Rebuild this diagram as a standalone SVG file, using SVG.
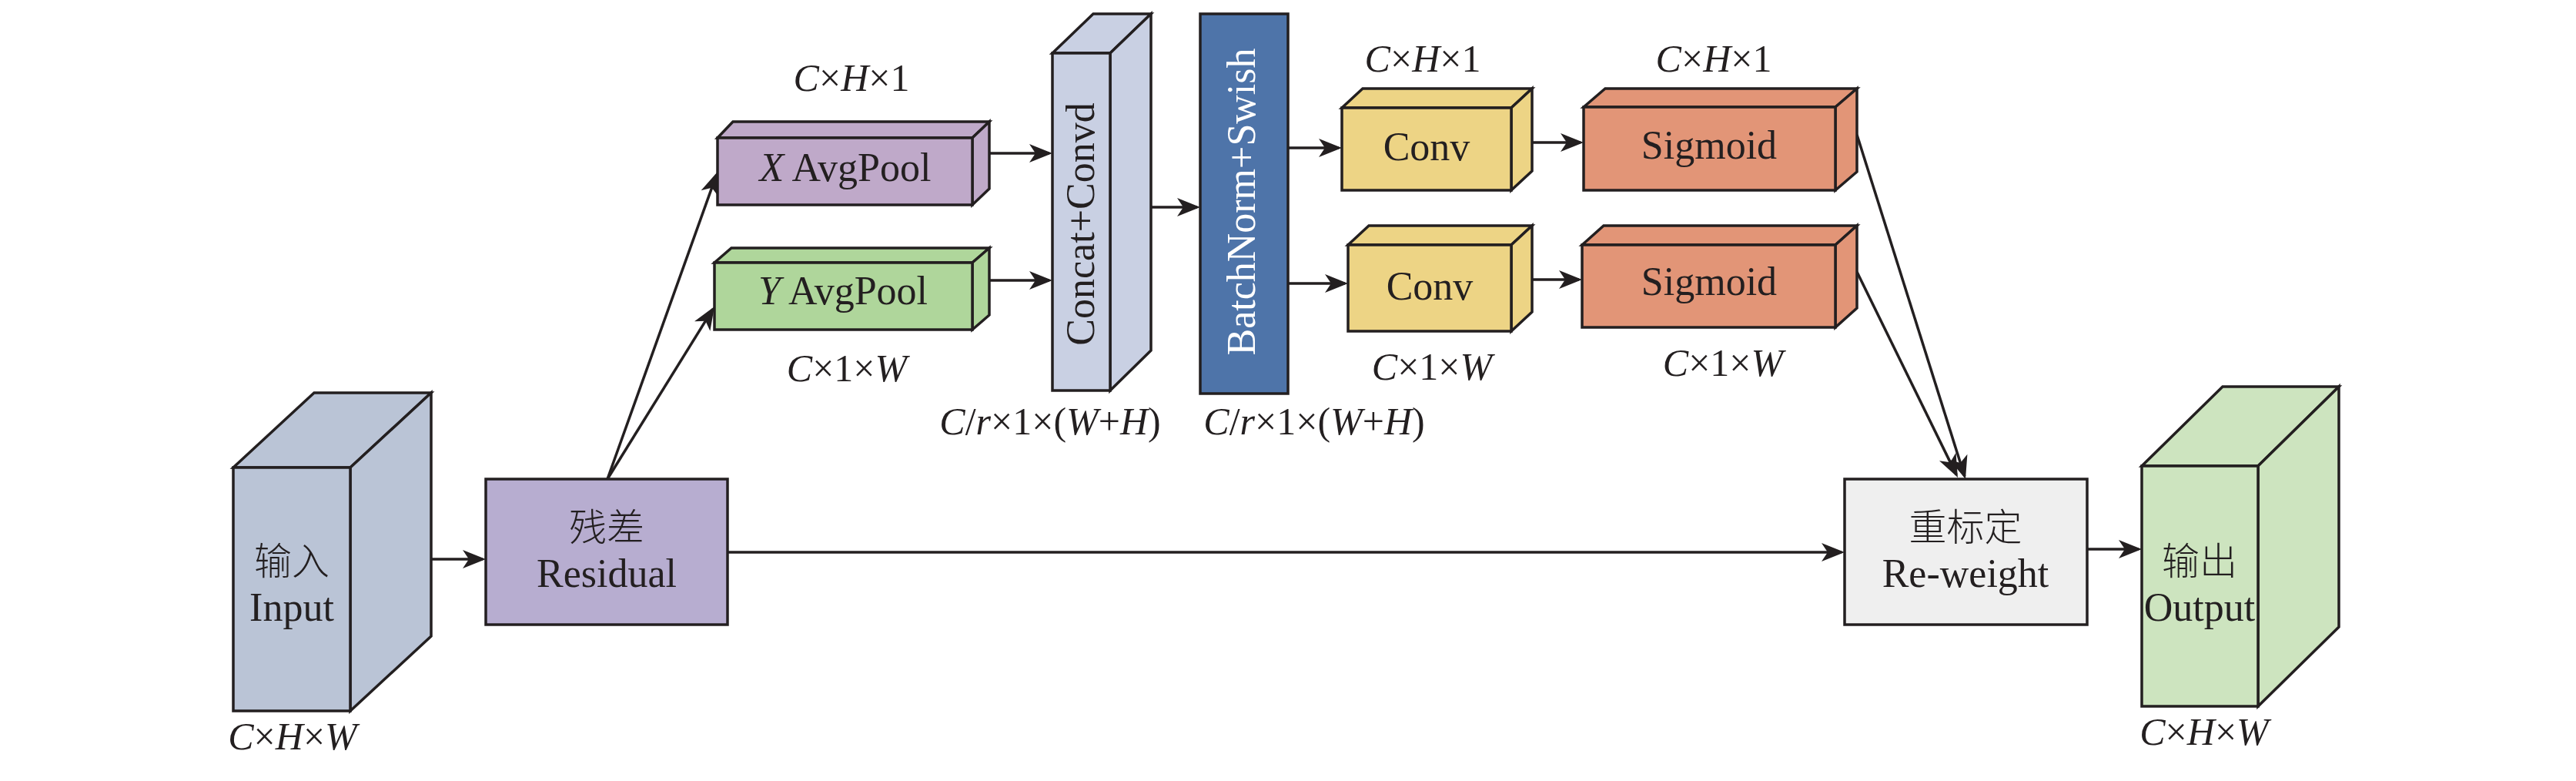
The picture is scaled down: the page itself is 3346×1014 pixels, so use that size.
<svg xmlns="http://www.w3.org/2000/svg" width="3346" height="1014" viewBox="0 0 3346 1014">
<style>
.s{stroke:#231F20;stroke-width:3.5;stroke-linejoin:miter}
.t{font-family:"Liberation Serif","Noto Sans CJK SC",serif;font-size:52px;fill:#231F20;text-anchor:middle}
.cn{font-family:"Noto Sans CJK SC","Liberation Serif",sans-serif;font-size:49px;fill:#231F20;text-anchor:middle;font-weight:300}
.l{font-family:"Liberation Serif",serif;font-size:50px;fill:#231F20;text-anchor:middle}
.i{font-style:italic}
.c{fill:none;stroke:#231F20;stroke-width:3.5;marker-end:url(#ah)}
</style>
<defs>
<marker id="ah" markerUnits="userSpaceOnUse" orient="auto" refX="0" refY="0" markerWidth="40" markerHeight="40" viewBox="-30 -15 40 30" overflow="visible">
<path d="M4,0 L-26,-12 L-18,0 L-26,12 Z" fill="#231F20"/>
</marker>
</defs>
<rect width="3346" height="1014" fill="#ffffff"/>

<g id="connectors">
<path class="c" d="M559,726 H627"/>
<path class="c" d="M789,622 L930.7,226.8"/>
<path class="c" d="M789,622 L925.9,401.4"/>
<path class="c" d="M1285,199 H1363"/>
<path class="c" d="M1285,364 H1363"/>
<path class="c" d="M1496,269 H1555"/>
<path class="c" d="M1673,192 H1739"/>
<path class="c" d="M1673,368 H1747"/>
<path class="c" d="M1990,185 H2053"/>
<path class="c" d="M1990,363 H2051"/>
<path class="c" d="M2412,175 L2551.8,618.2"/>
<path class="c" d="M2412,353 L2541.2,616.4"/>
<path class="c" d="M945,717 H2392"/>
<path class="c" d="M2711,713 H2778"/>
</g>

<g id="input">
<polygon class="s" fill="#BAC4D6" points="303,607 408,510 560,510 455,607"/>
<polygon class="s" fill="#BAC4D6" points="455,607 560,510 560,826 455,923"/>
<rect class="s" fill="#BAC4D6" x="303" y="607" width="152" height="316"/>
<text class="cn" x="379" y="746">输入</text>
<text class="t" x="379" y="806">Input</text>
<text class="l" x="380" y="973"><tspan class="i">C</tspan>×<tspan class="i">H</tspan>×<tspan class="i">W</tspan></text>
</g>

<g id="residual">
<rect class="s" fill="#B7ADD0" x="631" y="622" width="314" height="189"/>
<text class="cn" x="788" y="702">残差</text>
<text class="t" x="788" y="762">Residual</text>
</g>

<g id="xavgpool">
<polygon class="s" fill="#BFA9C9" points="932,179 952,158 1285,158 1263,179"/>
<polygon class="s" fill="#BFA9C9" points="1263,179 1285,158 1285,245 1263,266"/>
<rect class="s" fill="#BFA9C9" x="932" y="179" width="331" height="87"/>
<text class="t" x="1098" y="235"><tspan class="i">X</tspan> AvgPool</text>
<text class="l" x="1106" y="118"><tspan class="i">C</tspan>×<tspan class="i">H</tspan>×1</text>
</g>

<g id="yavgpool">
<polygon class="s" fill="#AFD69B" points="928,341 950,322 1285,322 1263,341"/>
<polygon class="s" fill="#AFD69B" points="1263,341 1285,322 1285,409 1263,428"/>
<rect class="s" fill="#AFD69B" x="928" y="341" width="335" height="87"/>
<text class="t" x="1095" y="395"><tspan class="i">Y</tspan> AvgPool</text>
<text class="l" x="1100" y="495"><tspan class="i">C</tspan>×1×<tspan class="i">W</tspan></text>
</g>

<g id="concat">
<polygon class="s" fill="#C9D0E3" points="1367,69 1420,18 1495,18 1442,69"/>
<polygon class="s" fill="#C9D0E3" points="1442,69 1495,18 1495,455 1442,507"/>
<rect class="s" fill="#C9D0E3" x="1367" y="69" width="75" height="438"/>
<text class="t" transform="translate(1421,291) rotate(-90)">Concat+Convd</text>
<text class="l" x="1364" y="564"><tspan class="i">C</tspan>/<tspan class="i">r</tspan>×1×(<tspan class="i">W</tspan>+<tspan class="i">H</tspan>)</text>
</g>

<g id="batchnorm">
<rect class="s" fill="#4E74A9" x="1559" y="18" width="114" height="493"/>
<text class="t" style="fill:#ffffff" transform="translate(1630,262) rotate(-90)">BatchNorm+Swish</text>
<text class="l" x="1707" y="564"><tspan class="i">C</tspan>/<tspan class="i">r</tspan>×1×(<tspan class="i">W</tspan>+<tspan class="i">H</tspan>)</text>
</g>

<g id="conv1">
<polygon class="s" fill="#EDD485" points="1743,140 1770,115 1990,115 1963,140"/>
<polygon class="s" fill="#EDD485" points="1963,140 1990,115 1990,222 1963,247"/>
<rect class="s" fill="#EDD485" x="1743" y="140" width="220" height="107"/>
<text class="t" x="1853" y="208">Conv</text>
<text class="l" x="1848" y="93"><tspan class="i">C</tspan>×<tspan class="i">H</tspan>×1</text>
</g>

<g id="conv2">
<polygon class="s" fill="#EDD485" points="1751,318 1778,293 1990,293 1963,318"/>
<polygon class="s" fill="#EDD485" points="1963,318 1990,293 1990,405 1963,430"/>
<rect class="s" fill="#EDD485" x="1751" y="318" width="212" height="112"/>
<text class="t" x="1857" y="389">Conv</text>
<text class="l" x="1860" y="493"><tspan class="i">C</tspan>×1×<tspan class="i">W</tspan></text>
</g>

<g id="sigmoid1">
<polygon class="s" fill="#E29577" points="2057,139 2085,115 2412,115 2384,139"/>
<polygon class="s" fill="#E29577" points="2384,139 2412,115 2412,223 2384,247"/>
<rect class="s" fill="#E29577" x="2057" y="139" width="327" height="108"/>
<text class="t" x="2220" y="206">Sigmoid</text>
<text class="l" x="2226" y="93"><tspan class="i">C</tspan>×<tspan class="i">H</tspan>×1</text>
</g>

<g id="sigmoid2">
<polygon class="s" fill="#E29577" points="2055,318 2083,293 2412,293 2384,318"/>
<polygon class="s" fill="#E29577" points="2384,318 2412,293 2412,400 2384,425"/>
<rect class="s" fill="#E29577" x="2055" y="318" width="329" height="107"/>
<text class="t" x="2220" y="383">Sigmoid</text>
<text class="l" x="2238" y="488"><tspan class="i">C</tspan>×1×<tspan class="i">W</tspan></text>
</g>

<g id="reweight">
<rect class="s" fill="#EFEFEF" x="2396" y="622" width="315" height="189"/>
<text class="cn" x="2553" y="702">重标定</text>
<text class="t" x="2553" y="762">Re-weight</text>
</g>

<g id="output">
<polygon class="s" fill="#CDE4BF" points="2782,605 2887,502 3038,502 2933,605"/>
<polygon class="s" fill="#CDE4BF" points="2933,605 3038,502 3038,814 2933,917"/>
<rect class="s" fill="#CDE4BF" x="2782" y="605" width="151" height="312"/>
<text class="cn" x="2857" y="746">输出</text>
<text class="t" x="2857" y="806">Output</text>
<text class="l" x="2863" y="967"><tspan class="i">C</tspan>×<tspan class="i">H</tspan>×<tspan class="i">W</tspan></text>
</g>
</svg>
